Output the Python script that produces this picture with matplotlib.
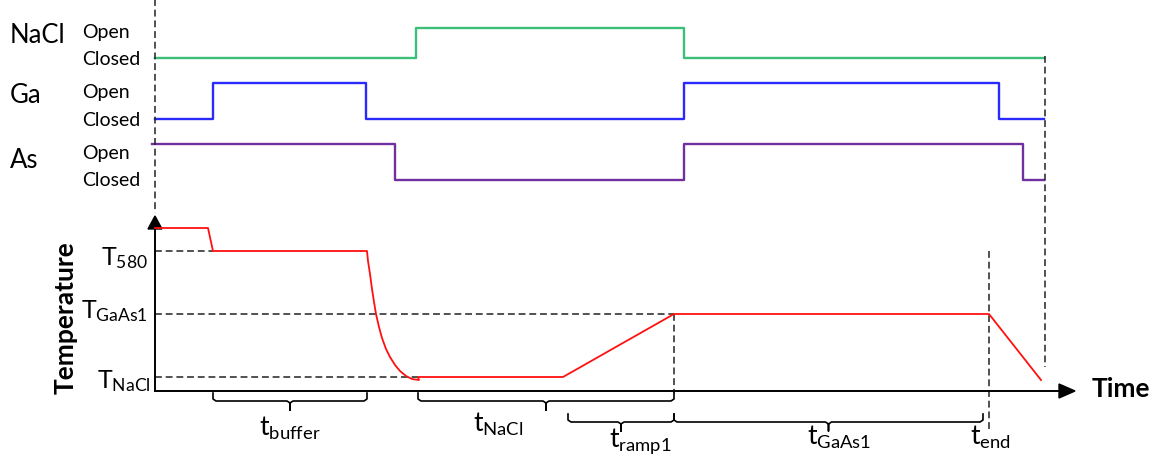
import numpy as np
import matplotlib.pyplot as plt
from matplotlib.patches import Polygon

plt.rcParams['font.family'] = ['Lato', 'DejaVu Sans']
plt.rcParams['mathtext.fontset'] = 'custom'
plt.rcParams['mathtext.rm'] = 'Lato'
plt.rcParams['mathtext.it'] = 'Lato'

W, H = 1166, 464

# shutter timing (time axis in drawing units), 1 = open, 0 = closed
nacl_t = [155, 416, 684, 1044]
nacl_s = [0, 1, 0, 0]
ga_t = [155, 213, 366, 684, 999, 1044]
ga_s = [0, 1, 0, 1, 0, 0]
as_t = [152, 395, 684, 1023, 1044]
as_s = [1, 0, 1, 0, 0]

# (closed level, open level) of each row
rows = {'NaCl': (59, 29), 'Ga': (120, 84), 'As': (181, 145)}
row_colors = {'NaCl': '#3cbf78', 'Ga': '#2a2aff', 'As': '#7030a0'}

# temperature profile
temp_x = [155, 208, 213, 367, 368, 370, 372, 374, 376, 379, 382, 386, 390, 395,
          400, 406, 412, 419, 418, 563, 674, 989, 1041]
temp_y = [229, 229, 252, 252, 262, 275, 290, 303, 315, 328, 339, 350, 358, 366,
          372, 377, 380, 381, 378, 378, 315, 315, 381]

T580, TGaAs1, TNaCl = 252, 315, 378
x0_axis, y0_axis = 155, 392

# braces: start, end, height, label, label position
braces = [(213, 367, 402, r'$\mathrm{t_{buffer}}$', 290, 428),
          (418, 674, 402, r'$\mathrm{t_{NaCl}}$', 498, 424),
          (568, 674, 423, r'$\mathrm{t_{ramp1}}$', 640, 441),
          (674, 983, 423, r'$\mathrm{t_{GaAs1}}$', 839, 437)]

fig = plt.figure(figsize=(W / 100, H / 100), dpi=100)
ax = fig.add_axes([0, 0, 1, 1])
ax.set_xlim(0, W)
ax.set_ylim(H, 0)
ax.axis('off')

dash = dict(color='#222222', lw=1.1, ls=(0, (4.5, 2.5)))

# shutter rows
data = {'NaCl': (nacl_t, nacl_s), 'Ga': (ga_t, ga_s), 'As': (as_t, as_s)}
for name, (t, s) in data.items():
    closed, opened = rows[name]
    lev = [opened if v else closed for v in s]
    ax.plot(t, lev, drawstyle='steps-post', color=row_colors[name], lw=1.7)

ax.text(10, 43, 'NaCl', fontsize=18.5)
ax.text(10, 103, 'Ga', fontsize=18.5)
ax.text(10, 168, 'As', fontsize=18.5)
for yo, yc in [(38, 65), (98, 126), (159, 186)]:
    ax.text(82, yo, 'Open', fontsize=14)
    ax.text(82, yc, 'Closed', fontsize=14)

# guide lines
ax.plot([155, 155], [0, 214], **dash)
ax.plot([1045, 1045], [57, 368], **dash)
ax.plot([155, 213], [T580, T580], **dash)
ax.plot([155, 674], [TGaAs1, TGaAs1], **dash)
ax.plot([155, 418], [TNaCl, TNaCl], **dash)
ax.plot([674, 674], [TGaAs1, 394], **dash)
ax.plot([989, 989], [252, 433], **dash)

# axes with arrows
ax.plot([x0_axis, x0_axis], [y0_axis, 228], color='black', lw=1.4)
ax.plot([x0_axis, 1060], [y0_axis, y0_axis], color='black', lw=1.4)
ax.add_patch(Polygon([[148, 230], [162, 230], [155, 217]], closed=True, color='black'))
ax.add_patch(Polygon([[1059, 385], [1059, 399], [1075, 392]], closed=True, color='black'))

# temperature
ax.plot(temp_x, temp_y, color='#ff1010', lw=1.3)

ax.text(148, 265, r'$\mathrm{T_{580}}$', fontsize=18, ha='right', va='baseline')
ax.text(148, 318, r'$\mathrm{T_{GaAs1}}$', fontsize=18, ha='right', va='baseline')
ax.text(151, 388, r'$\mathrm{T_{NaCl}}$', fontsize=18, ha='right', va='baseline')
ax.text(66, 318, 'Temperature', fontsize=19, fontweight='bold', rotation=90,
        ha='center', va='center')
ax.text(1092, 397, 'Time', fontsize=19, fontweight='bold', va='baseline')

# braces
for xa, xb, yb, lab, lx, ly in braces:
    xm = (xa + xb) / 2
    px = [xa, xa, xa + 3, xm - 3, xm, xm, xm, xm + 3, xb - 3, xb, xb]
    py = [yb - 8, yb - 2, yb, yb, yb + 2, yb + 9, yb + 2, yb, yb, yb - 2, yb - 8]
    ax.plot(px, py, color='black', lw=1.2)
    ax.text(lx, ly, lab, fontsize=19, ha='center', va='center')

ax.text(990, 437, r'$\mathrm{t_{end}}$', fontsize=19, ha='center', va='center')

fig.savefig('out.png', dpi=100)
